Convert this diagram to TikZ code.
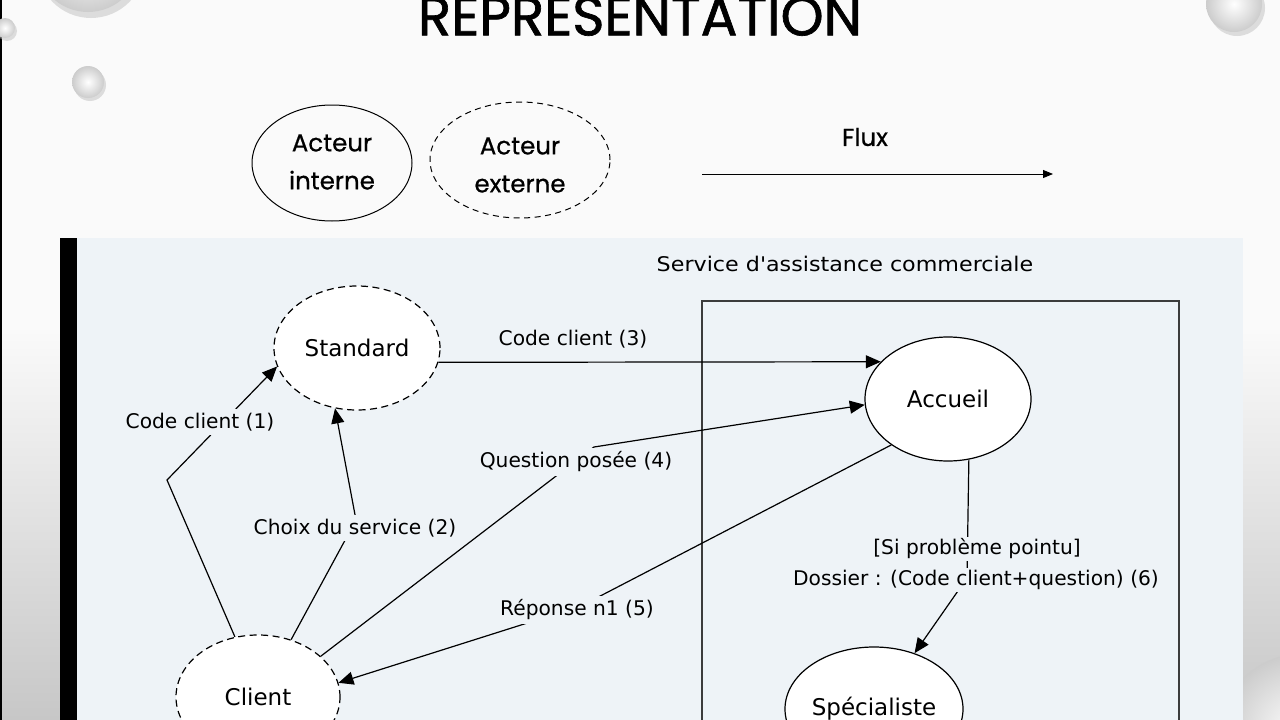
\documentclass[tikz,border=0pt]{standalone}
\usepackage{fontspec}
\usetikzlibrary{shapes.geometric,arrows.meta}
\newfontfamily\gothic[FakeBold=0.6]{Poppins}
\newfontfamily\gothictitle[FakeBold=1.2]{Poppins}
\newfontfamily\pix{DejaVu Sans}
\definecolor{panelbg}{RGB}{238,243,247}
\definecolor{lanegray}{RGB}{60,60,60}
\begin{document}
\begin{tikzpicture}[x=1pt,y=-1pt,
  actor/.style={ellipse, draw=black, fill=white, line width=1.2pt, inner sep=0pt,
    font=\pix\fontsize{23}{26}\selectfont},
  extactor/.style={actor, dash pattern=on 7pt off 4.5pt},
  lbl/.style={fill=panelbg, inner sep=4pt, font=\pix\fontsize{20.2}{22}\selectfont},
  plain/.style={inner sep=2pt, font=\pix\fontsize{20.2}{22}\selectfont},
  flow/.style={line width=1.2pt, -{Triangle[length=15pt,width=13pt]}},
  legend/.style={ellipse, draw=black, line width=1pt, inner sep=0pt},
  legendtxt/.style={align=center, inner sep=0pt, font=\gothic\fontsize{24.5}{38}\selectfont},
  bubble/.style={inner color=white, outer color=black!20},
  bubshadow/.style={fill=black!25, opacity=0.5}
]
\useasboundingbox (0,0) rectangle (1280,720);
\clip (0,0) rectangle (1280,720);
% slide background
\fill[white!98!black] (0,0) rectangle (1280,720);
\shade[top color=white!98!black, bottom color=black!22] (0,330) rectangle (1280,720);
\fill[black] (0,0) rectangle (2,720);
% decorative bubbles
\fill[bubshadow] (91,-36) circle[radius=54];
\shade[bubble] (88,-40) circle[radius=52];
\fill[bubshadow] (7,31) circle[radius=10];
\shade[bubble] (5,28) circle[radius=10];
\fill[bubshadow] (90,85) circle[radius=16];
\shade[bubble] (88,82) circle[radius=16];
\fill[bubshadow] (1237,8) circle[radius=28];
\shade[bubble] (1234,4) circle[radius=28];
\fill[bubshadow] (1302,735) circle[radius=80];
\shade[bubble] (1300,732) circle[radius=78];
% title
\node[anchor=south, inner sep=0pt] (title) at (640,36)
  {\resizebox{444pt}{39pt}{\gothictitle REPRESENTATION}};
% legend
\node[legend, minimum width=160pt, minimum height=116pt] (li) at (332,163) {};
\node[legendtxt] (litxt) at (332,162) {Acteur\\interne};
\node[legend, dash pattern=on 6pt off 4.5pt, minimum width=180pt, minimum height=116pt] (le) at (520,160) {};
\node[legendtxt] (letxt) at (520,165) {Acteur\\externe};
\node[legendtxt] (fluxlbl) at (865,137) {Flux};
\coordinate (fs) at (702,174);
\coordinate (fe) at (1053,174);
\draw[line width=1pt, -{Triangle[length=10pt,width=8pt]}] (fs) -- (fe);
% panel
\fill[panelbg] (77,238) rectangle (1243,720);
\fill[black] (60,238) rectangle (77,720);
\node[plain] (svc) at (845,264) {\scalebox{1.1}[1]{Service d'assistance commerciale}};
\draw[lanegray, line width=1.6pt] (702,760) -- (702,301) -- (1179,301) -- (1179,760);
% actors
\node[extactor, minimum width=166pt, minimum height=124pt] (std) at (357,348) {Standard};
\node[actor, minimum width=166pt, minimum height=124pt] (acc) at (948,399) {Accueil};
\node[extactor, minimum width=164pt, minimum height=124pt] (cli) at (258,697) {Client};
\node[actor, minimum width=178pt, minimum height=124pt] (spe) at (874,709) {Spécialiste};
% flows
\coordinate (b1) at (167,480);
\draw[flow] (cli.111) -- (b1) -- (std.193);
\coordinate (b2) at (356,520);
\draw[flow] (cli.60) -- (b2) -- (std.250);
\draw[flow] (std.350) -- (acc.151);
\coordinate (b4) at (594,447);
\draw[flow] (cli.33) -- (b4) -- (acc.184);
\coordinate (b5) at (581,606);
\draw[flow] (acc.219) -- (b5) -- (cli.10);
\coordinate (b6) at (967,578);
\draw[flow] (acc.289) -- (b6) -- (spe.54);
% labels
\node[lbl] (l1) at (200,422) {Code client (1)};
\node[lbl] (l2) at (355,528) {Choix du service (2)};
\node[plain] (l3) at (573,339) {Code client (3)};
\node[lbl] (l4) at (576,462) {Question posée (4)};
\node[lbl] (l5) at (577,610) {Réponse n1 (5)};
\node[lbl, inner ysep=2pt] (l6a) at (977,549) {[Si problème pointu]};
\node[lbl, inner ysep=2pt] (l6b) at (976,580) {Dossier : (Code client+question) (6)};
\end{tikzpicture}
\end{document}
